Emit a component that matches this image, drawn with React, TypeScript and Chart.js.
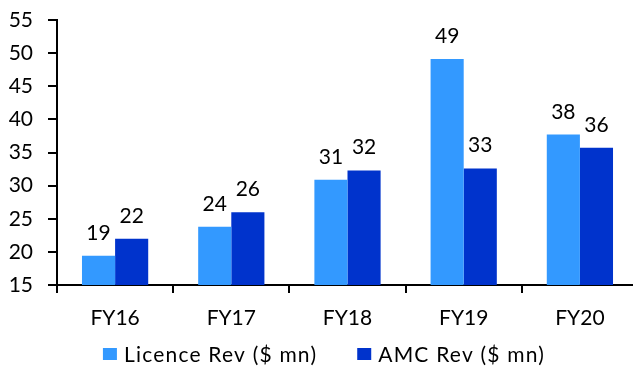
import React, { useEffect, useRef } from "react";
import { Chart, registerables } from "chart.js";

Chart.register(...registerables);

const categories = ["FY16", "FY17", "FY18", "FY19", "FY20"];
const licenceRev = [19.4, 23.8, 30.9, 49.1, 37.7];
const amcRev = [22.0, 26.0, 32.3, 32.6, 35.7];
const seriesNames = ["Licence Rev ($ mn)", "AMC Rev ($ mn)"];
const seriesColors = ["#3399FF", "#0033CC"];

const FONT = "Lato, 'DejaVu Sans', sans-serif";
const FONT_SIZE = 21;

// Rounded value printed above each bar
const valueLabels = {
  id: "valueLabels",
  afterDatasetsDraw(chart: any) {
    const ctx = chart.ctx;
    ctx.save();
    ctx.font = `${FONT_SIZE}px ${FONT}`;
    ctx.fillStyle = "#000";
    ctx.textAlign = "center";
    ctx.textBaseline = "alphabetic";
    chart.data.datasets.forEach((ds: any, i: number) => {
      const meta = chart.getDatasetMeta(i);
      meta.data.forEach((bar: any, j: number) => {
        ctx.fillText(String(Math.round(ds.data[j])), bar.x, bar.y - 16);
      });
    });
    ctx.restore();
  },
};

// Legend row centred under the axis labels
const bottomLegend = {
  id: "bottomLegend",
  afterDraw(chart: any) {
    const ctx = chart.ctx;
    ctx.save();
    ctx.font = `${FONT_SIZE}px ${FONT}`;
    (ctx as any).letterSpacing = "1.2px";
    const boxW = 14;
    const boxH = 12;
    const gap = 7;
    const spacing = 40;
    const items = chart.data.datasets.map((ds: any) => ({
      text: ds.label,
      color: ds.backgroundColor,
      w: boxW + gap + ctx.measureText(ds.label).width,
    }));
    const total = items.reduce((s: number, it: any) => s + it.w, 0) + spacing * (items.length - 1);
    let x = chart.width / 2 - total / 2;
    const y = 354;
    items.forEach((it: any) => {
      ctx.fillStyle = it.color;
      ctx.fillRect(x, y - boxH / 2, boxW, boxH);
      ctx.fillStyle = "#000";
      ctx.textAlign = "left";
      ctx.textBaseline = "middle";
      ctx.fillText(it.text, x + boxW + gap, y + 1);
      x += it.w + spacing;
    });
    ctx.restore();
  },
};

export default function App() {
  const canvasRef = useRef<HTMLCanvasElement>(null);

  useEffect(() => {
    if (!canvasRef.current) return;
    const chart = new Chart(canvasRef.current, {
      type: "bar",
      data: {
        labels: categories,
        datasets: [
          {
            label: seriesNames[0],
            data: licenceRev,
            backgroundColor: seriesColors[0],
            categoryPercentage: 0.57,
            barPercentage: 1,
          },
          {
            label: seriesNames[1],
            data: amcRev,
            backgroundColor: seriesColors[1],
            categoryPercentage: 0.57,
            barPercentage: 1,
          },
        ],
      },
      options: {
        responsive: false,
        animation: false,
        layout: { padding: { top: 20, right: 10, bottom: 37, left: 0 } },
        plugins: {
          legend: { display: false },
          tooltip: { enabled: false },
        },
        scales: {
          x: {
            afterFit: (s: any) => {
              s.height = 45;
              s.paddingLeft = 0;
              s.paddingRight = 0;
            },
            grid: {
              display: true,
              drawOnChartArea: false,
              drawTicks: true,
              tickLength: 8,
              lineWidth: 2,
              color: "#000",
              offset: true,
            },
            border: { display: true, color: "#000", width: 2 },
            ticks: {
              color: "#000",
              font: { family: FONT, size: FONT_SIZE },
              padding: 13,
            },
          },
          y: {
            min: 15,
            max: 55,
            afterFit: (s: any) => {
              s.width = 57;
              s.paddingTop = 0;
              s.paddingBottom = 0;
            },
            grid: {
              display: true,
              drawOnChartArea: false,
              drawTicks: true,
              tickLength: 9,
              lineWidth: 2,
              color: "#000",
            },
            border: { display: true, color: "#000", width: 2 },
            ticks: {
              stepSize: 5,
              color: "#000",
              font: { family: FONT, size: FONT_SIZE },
              padding: 15,
            },
          },
        },
      },
      plugins: [valueLabels, bottomLegend],
    });
    return () => chart.destroy();
  }, []);

  return (
    <div
      style={{
        position: "fixed",
        left: 0,
        top: 0,
        width: 633,
        height: 367,
        overflow: "hidden",
        background: "#fff",
      }}
    >
      <canvas ref={canvasRef} width={648} height={367} />
    </div>
  );
}
